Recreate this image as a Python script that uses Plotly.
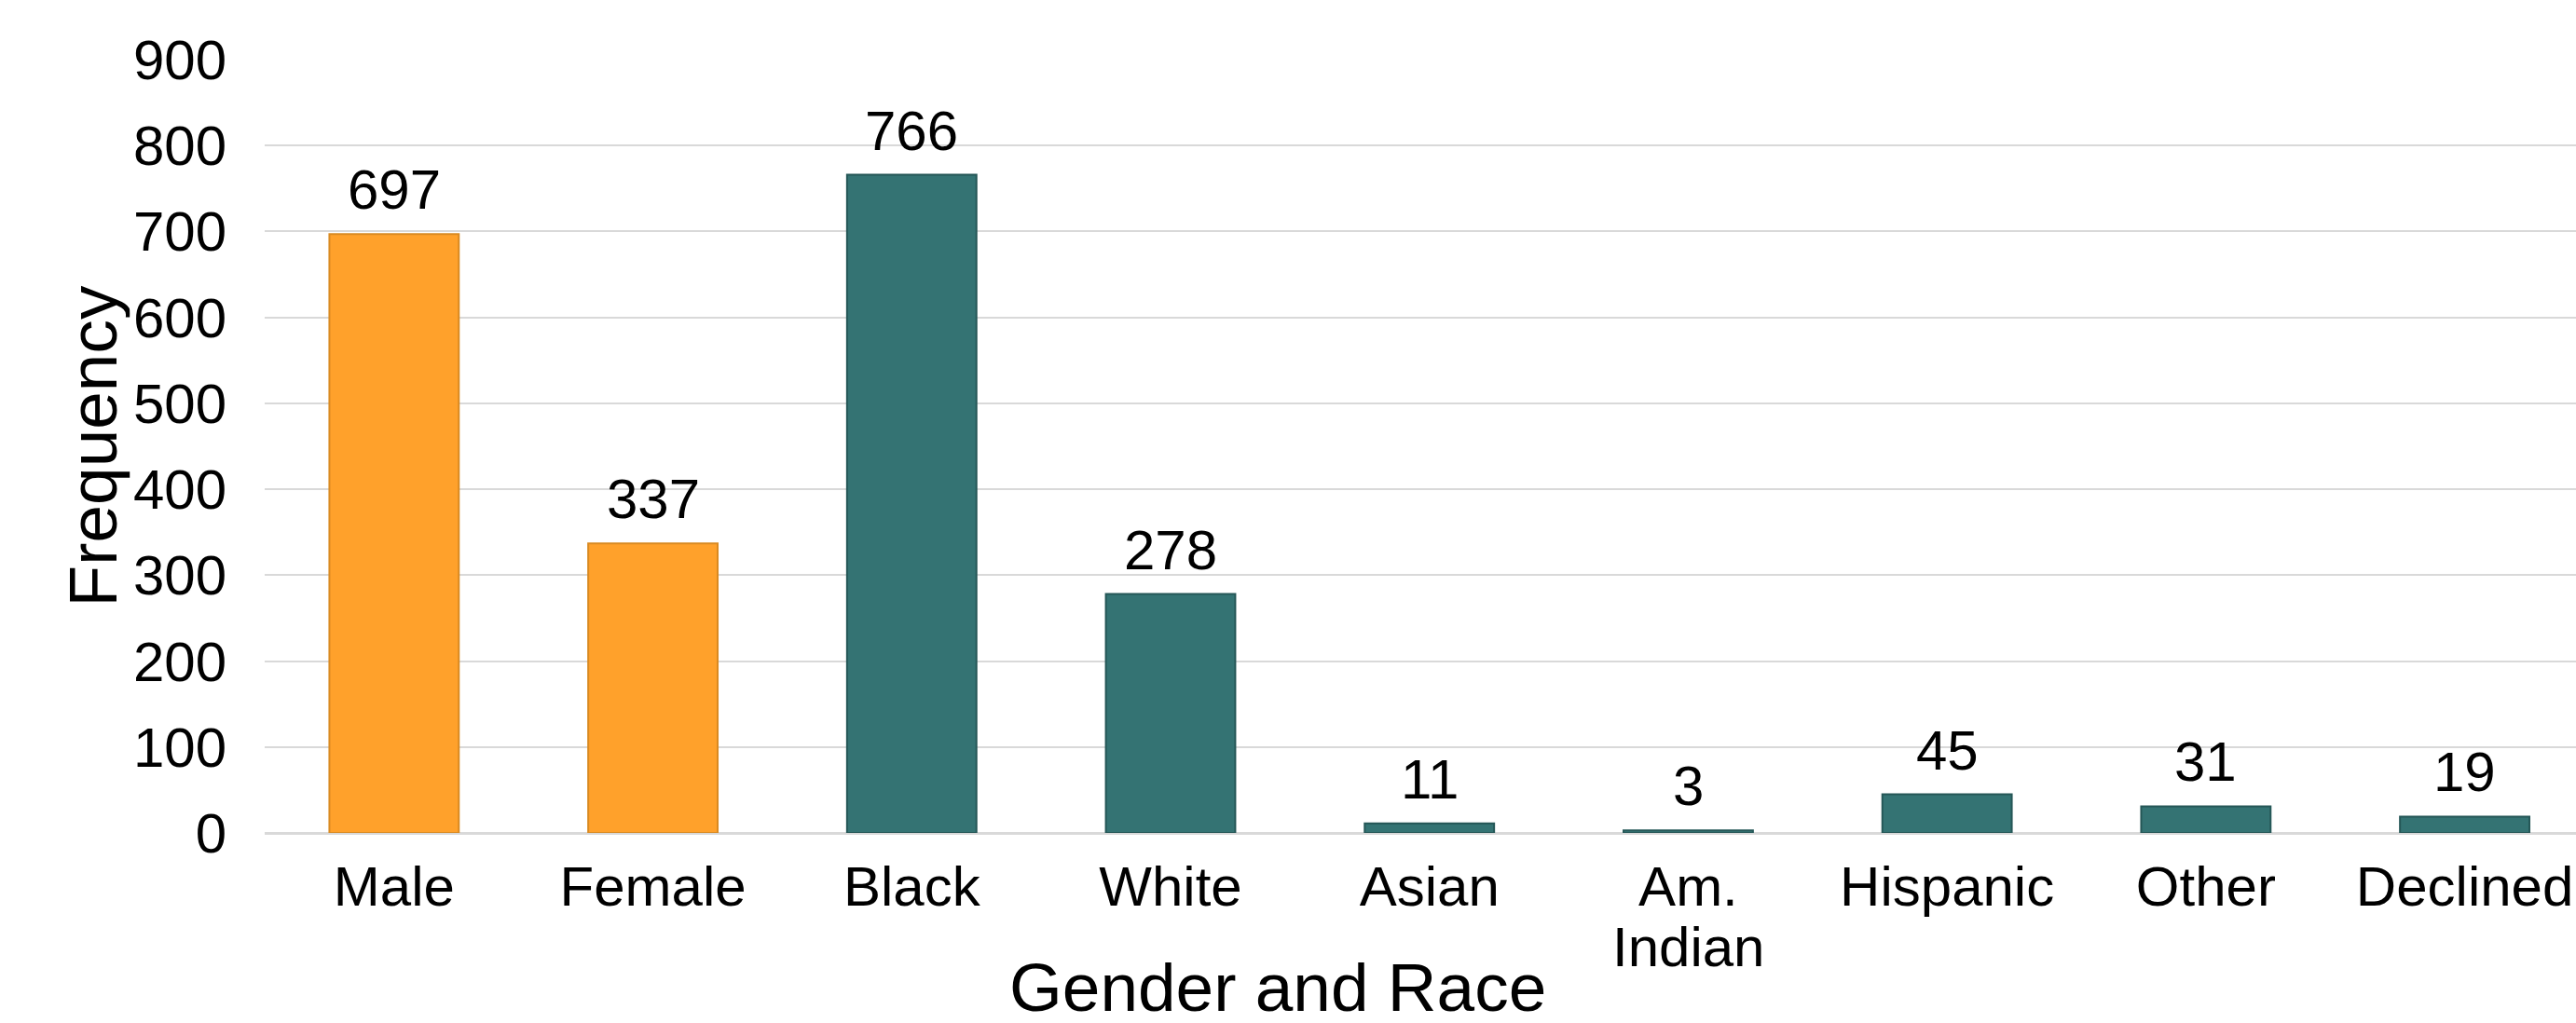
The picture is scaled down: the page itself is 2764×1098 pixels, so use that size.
import plotly.graph_objects as go

categories = ["Male", "Female", "Black", "White", "Asian", "Am. Indian", "Hispanic", "Other", "Declined"]
tick_labels = ["Male", "Female", "Black", "White", "Asian", "Am.", "Hispanic", "Other", "Declined"]
tick_second_line = {"Am. Indian": "Indian"}
frequency = [697, 337, 766, 278, 11, 3, 45, 31, 19]
group = ["Gender", "Gender", "Race", "Race", "Race", "Race", "Race", "Race", "Race"]
y_ticks = [0, 100, 200, 300, 400, 500, 600, 700, 800, 900]

ORANGE = "#FFA12B"
ORANGE_EDGE = "#D98A22"
TEAL = "#347373"
TEAL_EDGE = "#255757"
FONT = "Liberation Sans, Arial, Helvetica, sans-serif"

fill = [ORANGE if g == "Gender" else TEAL for g in group]
edge = [ORANGE_EDGE if g == "Gender" else TEAL_EDGE for g in group]

fig = go.Figure()
fig.add_trace(go.Bar(
    x=categories,
    y=frequency,
    width=0.5,
    marker=dict(color=fill, line=dict(color=edge, width=2)),
    hoverinfo="x+y",
))

annotations = []
for c, v in zip(categories, frequency):
    annotations.append(dict(
        x=c, y=v, xref="x", yref="y", text=str(v), showarrow=False,
        yanchor="bottom", xanchor="center", yshift=12,
        font=dict(family=FONT, size=60, color="#000000"),
    ))

for c, t in tick_second_line.items():
    annotations.append(dict(
        x=c, y=0, xref="x", yref="y", text=t, showarrow=False,
        yanchor="middle", xanchor="center", yshift=-122,
        font=dict(family=FONT, size=60, color="#000000"),
    ))

annotations.append(dict(
    x=0.4383, y=-0.199, xref="paper", yref="paper", text="Gender and Race",
    showarrow=False, xanchor="center", yanchor="middle", height=74, valign="middle",
    font=dict(family=FONT, size=73, color="#000000"),
))
annotations.append(dict(
    x=-0.0745, y=0.5, xref="paper", yref="paper", text="Frequency",
    showarrow=False, xanchor="center", yanchor="middle", textangle=-90,
    width=345, height=80,
    font=dict(family=FONT, size=73, color="#000000"),
))

fig.update_layout(
    width=2764, height=1098,
    margin=dict(l=284, r=0, t=64, b=204, pad=0),
    paper_bgcolor="white", plot_bgcolor="white",
    showlegend=False,
    bargap=0.5,
    annotations=annotations,
    font=dict(family=FONT, size=60, color="#000000"),
)
fig.update_xaxes(
    type="category",
    categoryorder="array", categoryarray=categories,
    tickmode="array", tickvals=categories, ticktext=tick_labels,
    range=[-0.5, 8.43],
    showgrid=False, showline=False, zeroline=False,
    ticks="", ticklabelstandoff=17,
    tickfont=dict(family=FONT, size=60, color="#000000"),
)
fig.update_yaxes(
    range=[0, 900],
    tickmode="array", tickvals=y_ticks,
    showgrid=True, gridcolor="#D9D9D9", gridwidth=2,
    zeroline=True, zerolinecolor="#D9D9D9", zerolinewidth=3,
    showline=False, ticks="", ticklabelstandoff=40,
    tickfont=dict(family=FONT, size=60, color="#000000"),
)

fig.write_html("out.html")
